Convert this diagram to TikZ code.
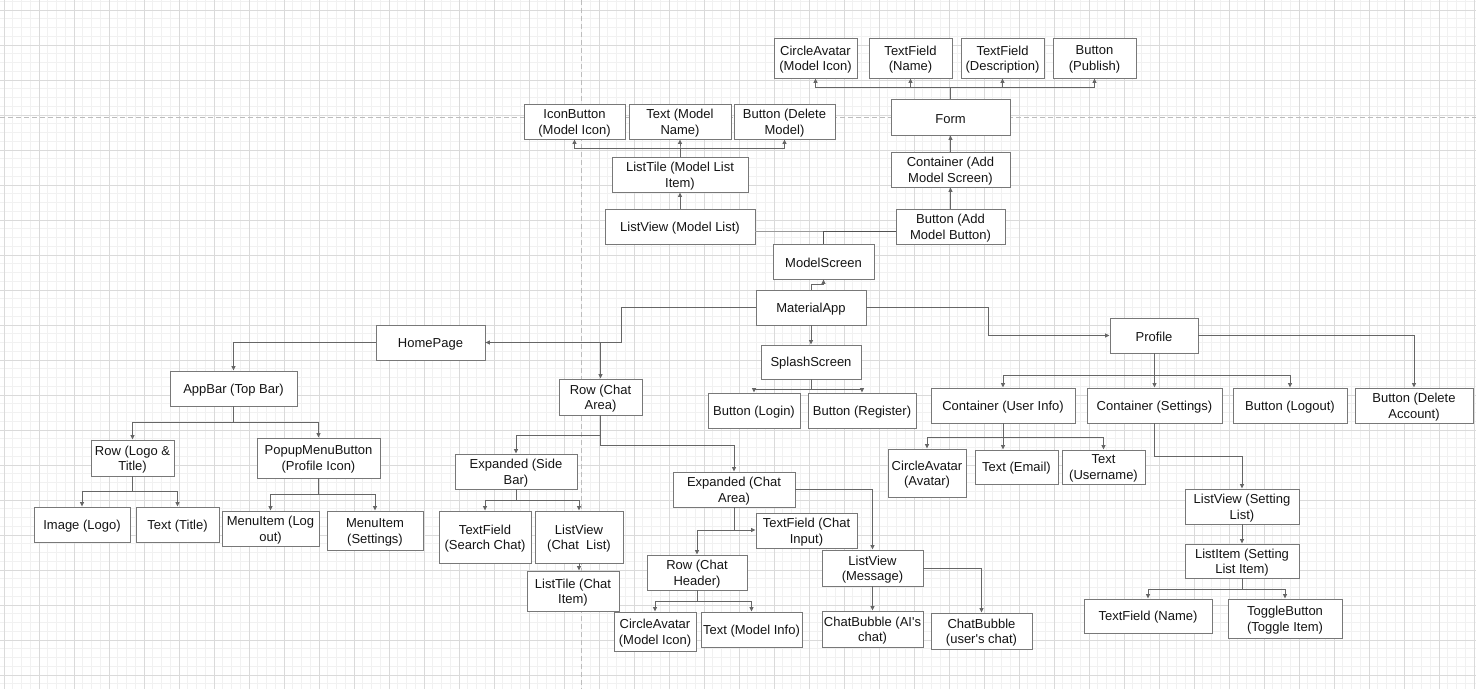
\documentclass[tikz,border=0pt]{standalone}
\usepackage{fontspec}
\setmainfont{Liberation Sans}
\usetikzlibrary{arrows.meta}

\definecolor{minorgrid}{HTML}{F1F1F1}
\definecolor{majorgrid}{HTML}{DADADA}
\definecolor{pageline}{HTML}{BDBDBD}
\definecolor{boxline}{HTML}{787878}
\definecolor{edgecol}{HTML}{666666}
\definecolor{lightedge}{HTML}{9A9A9A}
\definecolor{textcol}{HTML}{141414}

\tikzset{
  box/.style={draw=boxline, line width=0.95pt, fill=white, inner sep=0pt},
  boxtext/.style={inner sep=0pt, align=center, text=textcol,
    font=\fontsize{13}{15.6}\selectfont},
  edge/.style={draw=edgecol, line width=1pt,
    -{Triangle[length=4.5pt,width=4pt]}},
  link/.style={draw=edgecol, line width=1pt},
}

% \bx{name}{left}{top}{right}{bottom}{text}
\newcommand\bx[6]{%
  \node[box, minimum width={#4-#2}, minimum height={#5-#3}]
    (#1) at ({(#2+#4)/2},{(#3+#5)/2}) {};
  \node[boxtext] (#1-text) at ([yshift=-1.6pt]#1.center) {#6};}

\begin{document}
\begin{tikzpicture}[x=1pt,y=-1pt]
\useasboundingbox (0,0) rectangle (1476,689);
\fill[white] (0,0) rectangle (1476,689);

% background grid
\foreach \i in {0,...,168}
  \draw[minorgrid, line width=0.9pt] ({4+8.75*\i},0) -- ({4+8.75*\i},689);
\foreach \i in {-1,...,77}
  \draw[minorgrid, line width=0.9pt] (0,{10+8.75*\i}) -- (1476,{10+8.75*\i});
\foreach \i in {0,...,42}
  \draw[majorgrid, line width=1pt] ({4+35*\i},0) -- ({4+35*\i},689);
\foreach \i in {0,...,19}
  \draw[majorgrid, line width=1pt] (0,{10+35*\i}) -- (1476,{10+35*\i});
% page breaks
\draw[pageline, line width=1pt, dash pattern=on 5pt off 3pt] (0,117) -- (1476,117);
\draw[pageline, line width=1pt, dash pattern=on 5pt off 3pt] (581.5,0) -- (581.5,689);

% model screen branch
\bx{ca1}{774}{38}{857}{78}{CircleAvatar\\(Model Icon)}
\bx{tfn}{869}{38}{952}{78}{TextField\\(Name)}
\bx{tfd}{961}{38}{1044}{78}{TextField\\(Description)}
\bx{bpub}{1053}{38}{1136}{78}{Button\\(Publish)}
\bx{form}{891}{99}{1010}{135}{Form}
\bx{ib}{524}{104}{625}{139}{IconButton\\(Model Icon)}
\bx{tmn}{629}{104}{731}{139}{Text (Model\\Name)}
\bx{bdm}{734}{104}{835}{139}{Button (Delete\\Model)}
\bx{ltm}{612}{157}{748}{192}{ListTile (Model List\\Item)}
\bx{cams}{891}{152}{1010}{187}{Container (Add\\Model Screen)}
\bx{lvm}{605}{209}{755}{244}{ListView (Model List)}
\bx{bamb}{896}{209}{1005}{244}{Button (Add\\Model Button)}
\bx{ms}{773}{244}{874}{279}{ModelScreen}

% root and splash
\bx{ma}{756}{290}{866}{325}{MaterialApp}
\bx{ss}{761}{345}{861}{379}{SplashScreen}
\bx{bl}{708}{393}{800}{428}{Button (Login)}
\bx{br}{808}{393}{916}{428}{Button (Register)}

% home page branch
\bx{hp}{376}{325}{485}{360}{HomePage}
\bx{ab}{170}{371}{297}{406}{AppBar (Top Bar)}
\bx{rlt}{91}{440}{174}{476}{Row (Logo \&\\Title)}
\bx{pmb}{257}{438}{380}{478}{PopupMenuButton\\(Profile Icon)}
\bx{il}{34}{507}{130}{542}{Image (Logo)}
\bx{tt}{136}{507}{219}{542}{Text (Title)}
\bx{mlo}{222}{511}{319}{546}{MenuItem (Log\\out)}
\bx{mse}{327}{511}{423}{550}{MenuItem\\(Settings)}
\bx{rca}{559}{379}{642}{415}{Row (Chat\\Area)}
\bx{esb}{455}{454}{577}{489}{Expanded (Side\\Bar)}
\bx{tfs}{439}{511}{531}{563}{TextField\\(Search Chat)}
\bx{lvc}{535}{511}{623}{563}{ListView\\(Chat\ \ List)}
\bx{ltc}{527}{571}{619}{611}{ListTile (Chat\\Item)}
\bx{eca}{673}{472}{795}{507}{Expanded (Chat\\Area)}
\bx{tfc}{756}{513}{857}{548}{TextField (Chat\\Input)}
\bx{rch}{647}{555}{747}{590}{Row (Chat\\Header)}
\bx{camc}{614}{612}{696}{651}{CircleAvatar\\(Model Icon)}
\bx{tmi}{701}{612}{802}{647}{Text (Model Info)}
\bx{lvmsg}{822}{550}{923}{586}{ListView\\(Message)}
\bx{cbai}{822}{611}{923}{647}{ChatBubble (AI\textquotesingle s\\chat)}
\bx{cbu}{931}{613}{1032}{649}{ChatBubble\\(user\textquotesingle s chat)}

% profile branch
\bx{prof}{1110}{318}{1198}{353}{Profile}
\bx{cui}{931}{388}{1075}{423}{Container (User Info)}
\bx{cs}{1087}{388}{1222}{423}{Container (Settings)}
\bx{blo}{1233}{388}{1347}{423}{Button (Logout)}
\bx{bda}{1355}{388}{1473}{423}{Button (Delete\\Account)}
\bx{cav}{888}{449}{966}{497}{CircleAvatar\\(Avatar)}
\bx{tem}{975}{450}{1058}{484}{Text (Email)}
\bx{tun}{1062}{450}{1145}{484}{Text\\(Username)}
\bx{lvs}{1185}{489}{1299}{524}{ListView (Setting\\List)}
\bx{lis}{1185}{544}{1299}{578}{ListItem (Setting\\List Item)}
\bx{tfnm}{1084}{599}{1212}{633}{TextField (Name)}
\bx{tgb}{1228}{599}{1342}{638}{ToggleButton\\(Toggle Item)}

% ---- connectors ----
\coordinate (formbus) at (950.5,87);
\foreach \c in {ca1,tfn,tfd,bpub} \draw[edge] (form.north) -- (formbus) -| (\c.south);
\coordinate (ltbus) at (680,148);
\foreach \c in {ib,tmn,bdm} \draw[edge] (ltm.north) -- (ltbus) -| (\c.south);
\draw[edge] (lvm.north) -- (ltm.south);
\draw[edge] (bamb.north) -- (cams.south);
\draw[edge] (cams.north) -- (form.south);
\coordinate (msj) at (823.5,231);
\draw[link, draw=lightedge] (msj) -- ([yshift=-4.5pt]lvm.east);
\draw[link, draw=edgecol!80!black] (ms.north) -- (msj) -- ([yshift=-4.5pt]bamb.west);

\draw[edge] (ma.north) -- (811,284.5) -| (ms.south);
\draw[edge] (ma.south) -- (ss.north);
\coordinate (ssbus) at (811,389);
\foreach \c in {bl,br} \draw[edge] (ss.south) -- (ssbus) -| (\c.north);

\draw[edge] (ma.west) -- (621,307.5) -- (621,342.5) -- (hp.east);
\draw[edge] (hp.east) -- (600.5,342.5) -- (rca.north);
\draw[edge] (hp.west) -| (ab.north);
\coordinate (abbus) at (233.5,422);
\foreach \c in {rlt,pmb} \draw[edge] (ab.south) -- (abbus) -| (\c.north);
\coordinate (rltbus) at (132.5,491);
\foreach \c in {il,tt} \draw[edge] (rlt.south) -- (rltbus) -| (\c.north);
\coordinate (pmbbus) at (318.5,494);
\foreach \c in {mlo,mse} \draw[edge] (pmb.south) -- (pmbbus) -| (\c.north);

\draw[edge] (rca.south) -- (600.5,435) -| (esb.north);
\draw[edge] (rca.south) -- (600.5,445) -| (eca.north);
\coordinate (esbbus) at (516,500);
\foreach \c in {tfs,lvc} \draw[edge] (esb.south) -- (esbbus) -| (\c.north);
\draw[edge] (lvc.south) -- (lvc.south |- ltc.north);
\coordinate (ecaj) at (734,530);
\draw[edge] (eca.south) -- (ecaj) -- (ecaj -| tfc.west);
\draw[edge] (eca.south) -- (ecaj) -| (rch.north);
\draw[edge] (eca.east) -| (lvmsg.north);
\coordinate (rchbus) at (697,601);
\foreach \c in {camc,tmi} \draw[edge] (rch.south) -- (rchbus) -| (\c.north);
\draw[edge] (lvmsg.south) -- (cbai.north);
\draw[edge] (lvmsg.east) -| (cbu.north);

\draw[edge] (ma.east) -- (988,307.5) |- (prof.west);
\coordinate (pbus) at (1154,375);
\foreach \c in {cui,cs,blo} \draw[edge] (prof.south) -- (pbus) -| (\c.north);
\draw[edge] (prof.east) -| (bda.north);
\coordinate (cuibus) at (1003,437);
\draw[edge] (cui.south) -- (cuibus) -| (cav.north);
\draw[edge] (cui.south) -- (cui.south |- tem.north);
\draw[edge] (cui.south) -- (cuibus) -| (tun.north);
\draw[edge] (cs.south) -- (1154.5,456) -| (lvs.north);
\draw[edge] (lvs.south) -- (lis.north);
\coordinate (lisbus) at (1242,589);
\foreach \c in {tfnm,tgb} \draw[edge] (lis.south) -- (lisbus) -| (\c.north);
\end{tikzpicture}
\end{document}
